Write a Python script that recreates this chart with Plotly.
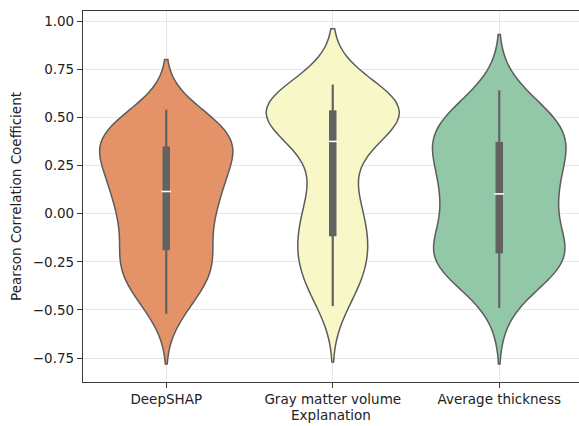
import numpy as np
import plotly.graph_objects as go

# Per-explanation Pearson correlation coefficients
categories = ["DeepSHAP", "Gray matter volume", "Average thickness"]

deepshap = [
    -0.52, -0.46, -0.41, -0.37, -0.34, -0.31, -0.28, -0.26, -0.24, -0.22,
    -0.18, -0.14, -0.10, -0.065, -0.035, -0.005, 0.025, 0.055, 0.08, 0.10,
    0.13, 0.155, 0.18, 0.205, 0.23, 0.255, 0.28, 0.305, 0.33, 0.345,
    0.36, 0.37, 0.39, 0.40, 0.42, 0.44, 0.46, 0.48, 0.51, 0.54,
]
gray_matter_volume = [
    -0.48, -0.42, -0.38, -0.34, -0.30, -0.26, -0.23, -0.20, -0.17, -0.14,
    -0.11, -0.07, -0.03, 0.01, 0.05, 0.09, 0.13, 0.22, 0.32, 0.37,
    0.38, 0.43, 0.46, 0.48, 0.49, 0.50, 0.51, 0.52, 0.53, 0.535,
    0.54, 0.55, 0.56, 0.57, 0.58, 0.59, 0.60, 0.615, 0.64, 0.67,
]
average_thickness = [
    -0.49, -0.36, -0.32, -0.295, -0.275, -0.26, -0.25, -0.24, -0.23, -0.225,
    -0.20, -0.167, -0.134, -0.10, -0.067, -0.034, 0.00, 0.033, 0.066, 0.095,
    0.11, 0.14, 0.17, 0.20, 0.23, 0.26, 0.29, 0.32, 0.35, 0.37,
    0.38, 0.40, 0.42, 0.44, 0.46, 0.48, 0.50, 0.53, 0.57, 0.64,
]

series = [deepshap, gray_matter_volume, average_thickness]
fill_colors = ["#E39367", "#F7F7C7", "#92C7A7"]
bandwidths = [0.13, 0.145, 0.145]

y_ticks = [-0.75, -0.5, -0.25, 0.0, 0.25, 0.5, 0.75, 1.0]

EDGE = "#5c5c5c"
BOX = "#626262"
FONT = "DejaVu Sans"

fig = go.Figure()

for name, vals, col, bw in zip(categories, series, fill_colors, bandwidths):
    fig.add_trace(go.Violin(
        x=[name] * len(vals), y=vals, name=name,
        fillcolor=col, opacity=1,
        line=dict(color=EDGE, width=1.5),
        points=False, box_visible=False, meanline_visible=False,
        scalemode="width", width=0.8, bandwidth=bw, spanmode="soft",
        hoverinfo="skip", showlegend=False,
    ))

# Inner box: whiskers, interquartile bar and median tick
for name, vals in zip(categories, series):
    a = np.asarray(vals)
    q1, med, q3 = np.percentile(a, [25, 50, 75])
    iqr = q3 - q1
    lo = a[a >= q1 - 1.5 * iqr].min()
    hi = a[a <= q3 + 1.5 * iqr].max()
    fig.add_trace(go.Scatter(
        x=[name, name], y=[lo, hi], mode="lines",
        line=dict(color=BOX, width=2.2), hoverinfo="skip", showlegend=False,
    ))
    fig.add_trace(go.Scatter(
        x=[name, name], y=[q1, q3], mode="lines",
        line=dict(color=BOX, width=7.5), hoverinfo="skip", showlegend=False,
    ))
    fig.add_trace(go.Scatter(
        x=[name], y=[med], mode="markers",
        marker=dict(symbol="line-ew", size=7, line=dict(color="white", width=1.6)),
        hoverinfo="skip", showlegend=False,
    ))

fig.update_layout(
    width=579, height=426,
    margin=dict(l=83, r=0, t=11, b=44),
    paper_bgcolor="white", plot_bgcolor="white",
    font=dict(family=FONT, size=13.5, color="#222222"),
    violinmode="overlay",
)
fig.update_xaxes(
    type="category", range=[-0.5, 2.479],
    showline=True, mirror=True, linecolor="#3a3a3a", linewidth=1.2,
    ticks="outside", ticklen=5, tickcolor="#3a3a3a", tickwidth=1,
    showgrid=True, gridcolor="#e6e6e6", gridwidth=1,
    title=dict(text="Explanation", standoff=4, font=dict(size=13.5)),
    zeroline=False,
)
fig.update_yaxes(
    range=[-0.874, 1.052],
    tickvals=y_ticks, tickformat=".2f",
    showline=True, mirror=False, linecolor="#3a3a3a", linewidth=1.2,
    ticks="outside", ticklen=5, tickcolor="#3a3a3a", tickwidth=1,
    showgrid=True, gridcolor="#e6e6e6", gridwidth=1,
    title=dict(text="Pearson Correlation Coefficient", standoff=8, font=dict(size=13.5)),
    zeroline=False,
)

fig.write_html("out.html")
